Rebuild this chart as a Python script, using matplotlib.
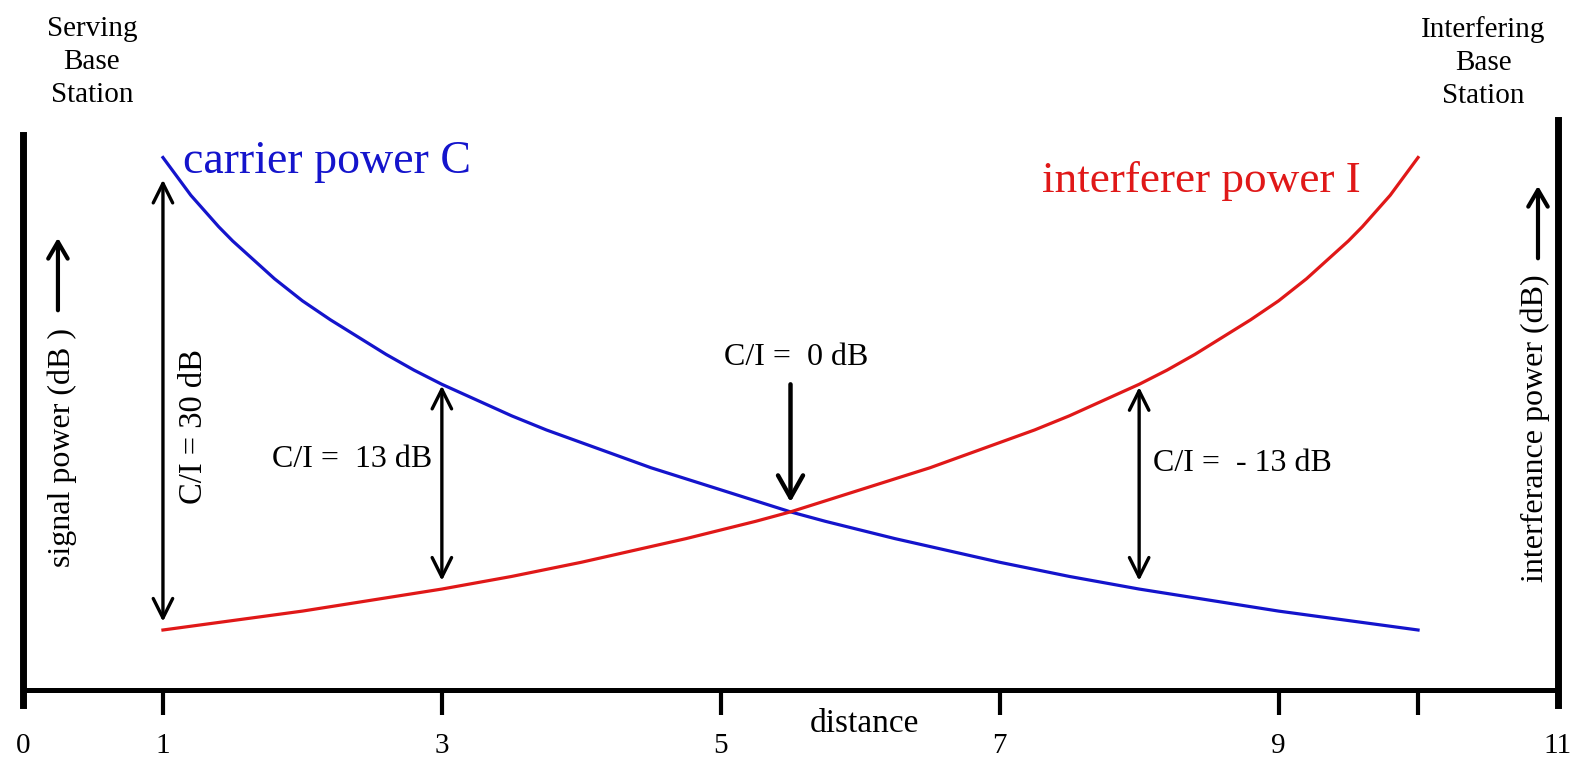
import matplotlib.pyplot as plt

plt.rcParams['font.family'] = ['Liberation Serif', 'DejaVu Serif']

# received power (dB, relative to the interferer level at distance 1)
dist_c = [1, 1.1, 1.2, 1.3, 1.4, 1.5, 1.6, 1.7, 1.8, 1.9, 2, 2.2, 2.4, 2.6,
          2.8, 3, 3.25, 3.5, 3.75, 4, 4.25, 4.5, 4.75, 5, 5.25, 5.5, 5.75,
          6, 6.25, 6.5, 7, 7.5, 8, 8.5, 9, 9.5, 10]
carrier_db = [30.0, 28.8, 27.6, 26.6, 25.6, 24.7, 23.9, 23.1, 22.3, 21.6,
              20.9, 19.7, 18.6, 17.5, 16.5, 15.6, 14.6, 13.6, 12.7, 11.9,
              11.1, 10.3, 9.6, 8.9, 8.2, 7.5, 6.9, 6.35, 5.8, 5.3, 4.3, 3.4,
              2.6, 1.9, 1.2, 0.6, 0.0]

dist_i = [1, 1.5, 2, 2.5, 3, 3.5, 4, 4.5, 4.75, 5, 5.25, 5.5, 5.75, 6, 6.25,
          6.5, 6.75, 7, 7.25, 7.5, 7.75, 8, 8.2, 8.4, 8.6, 8.8, 9, 9.1, 9.2,
          9.3, 9.4, 9.5, 9.6, 9.7, 9.8, 9.9, 10]
interf_db = [0.0, 0.6, 1.2, 1.9, 2.6, 3.4, 4.3, 5.3, 5.8, 6.35, 6.9, 7.5,
             8.2, 8.9, 9.6, 10.3, 11.1, 11.9, 12.7, 13.6, 14.6, 15.6, 16.5,
             17.5, 18.6, 19.7, 20.9, 21.6, 22.3, 23.1, 23.9, 24.7, 25.6,
             26.6, 27.6, 28.8, 30.0]

tick_pos = [0, 1, 3, 5, 7, 9, 11]
tick_labels = ['0', '1', '3', '5', '7', '9', '11']

# C/I markers: (distance, label)
ci_points = [(1, 'C/I = 30 dB'), (3, 'C/I =  13 dB'), (8, 'C/I =  - 13 dB')]

blue = '#1414cc'
red = '#e01818'

fig = plt.figure(figsize=(15.8, 7.58), dpi=100)
ax = fig.add_axes([0.01487, 0.0897, 0.9709, 0.9103])
ax.set_xlim(0, 11)
ax.set_ylim(-3.81, 40.0)

ax.plot(dist_c, carrier_db, color=blue, lw=2.3)
ax.plot(dist_i, interf_db, color=red, lw=2.3)

# axes frame
ax.spines['top'].set_visible(False)
ax.spines['left'].set_bounds(-4.77, 31.4)
ax.spines['right'].set_bounds(-4.77, 32.4)
ax.spines['left'].set_linewidth(5)
ax.spines['right'].set_linewidth(5)
ax.spines['bottom'].set_linewidth(3.6)
ax.set_yticks([])
ax.set_xticks(tick_pos)
ax.set_xticklabels(tick_labels)
ax.set_xticks([10], minor=True)
ax.tick_params(axis='x', which='both', length=18, width=3, direction='out',
               pad=13, labelsize=21)
major = ax.xaxis.get_major_ticks()
major[0].tick1line.set_visible(False)
major[-1].tick1line.set_visible(False)

# curve names
ax.text(1.144, 29.75, 'carrier power C', color=blue, fontsize=33,
        ha='left', va='center')
ax.text(7.30, 28.5, 'interferer power I', color=red, fontsize=32.5,
        ha='left', va='center')

# C/I double arrows between the two curves
c_at = dict(zip(dist_c, carrier_db))
i_at = dict(zip(dist_i, interf_db))
shrinks = {1: (6, 16), 3: (6, 1), 8: (6, 2)}
for d, lab in ci_points:
    lo = min(c_at[d], i_at[d])
    hi = max(c_at[d], i_at[d])
    sa, sb = shrinks[d]
    ax.annotate('', xy=(d, hi), xytext=(d, lo),
                arrowprops=dict(arrowstyle='<->,head_length=0.7,head_width=0.35',
                                color='black', lw=2.4, shrinkA=sa, shrinkB=sb,
                                mutation_scale=20))

ax.text(1.22, 12.9, ci_points[0][1], fontsize=23.5, rotation=90,
        ha='center', va='center')
ax.text(2.93, 10.8, ci_points[1][1], fontsize=23, ha='right', va='center')
ax.text(8.10, 10.6, ci_points[2][1], fontsize=23, ha='left', va='center')

# crossing point
x_cross = 5.5
y_cross = c_at[x_cross]
ax.text(5.54, 17.3, 'C/I =  0 dB', fontsize=23, ha='center', va='center')
ax.annotate('', xy=(x_cross, y_cross), xytext=(x_cross, 15.6),
            arrowprops=dict(arrowstyle='->,head_length=0.8,head_width=0.45',
                            color='black', lw=3.2, shrinkA=0, shrinkB=7,
                            mutation_scale=20))

# side labels
ax.text(0.276, 11.6, 'signal power (dB )', fontsize=23, rotation=90,
        ha='center', va='center')
ax.annotate('', xy=(0.247, 24.9), xytext=(0.247, 20.3),
            arrowprops=dict(arrowstyle='->,head_length=0.6,head_width=0.35',
                            color='black', lw=3, shrinkA=0, shrinkB=0,
                            mutation_scale=20))
ax.text(10.84, 12.8, 'interferance power (dB)', fontsize=23, rotation=90,
        ha='center', va='center')
ax.annotate('', xy=(10.86, 28.2), xytext=(10.86, 23.6),
            arrowprops=dict(arrowstyle='->,head_length=0.6,head_width=0.35',
                            color='black', lw=3, shrinkA=0, shrinkB=0,
                            mutation_scale=20))

ax.text(0.49, 36.05, 'Serving\nBase\nStation', fontsize=21, ha='center',
        va='center', linespacing=1.35, clip_on=False)
ax.text(10.47, 36.05, 'Interfering\nBase\nStation', fontsize=21, ha='center',
        va='center', linespacing=1.35, clip_on=False)
ax.text(6.03, -5.94, 'distance', fontsize=24, ha='center', va='center',
        clip_on=False)

fig.savefig('out.png', dpi=100)
